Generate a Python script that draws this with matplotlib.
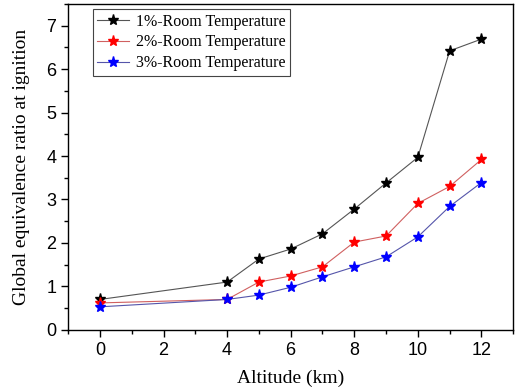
import matplotlib
matplotlib.use("Agg")
import matplotlib.pyplot as plt
from matplotlib.ticker import MultipleLocator

altitude = [0, 4, 5, 6, 7, 8, 9, 10, 11, 12]
phi_1pct = [0.70, 1.10, 1.63, 1.86, 2.21, 2.78, 3.38, 3.97, 6.42, 6.69]
phi_2pct = [0.62, 0.70, 1.10, 1.24, 1.45, 2.02, 2.16, 2.91, 3.30, 3.92]
phi_3pct = [0.53, 0.70, 0.80, 0.98, 1.22, 1.45, 1.68, 2.14, 2.84, 3.39]
labels = ["1%-Room Temperature", "2%-Room Temperature", "3%-Room Temperature"]

series = [
    (phi_1pct, "#555555", "black"),
    (phi_2pct, "#d06060", "red"),
    (phi_3pct, "#5555aa", "blue"),
]

fig = plt.figure(figsize=(5.2, 3.89), dpi=100)
ax = fig.add_axes([0.131, 0.152, 0.856, 0.838])

for (vals, lc, mc), lab in zip(series, labels):
    ax.plot(altitude, vals, color=lc, lw=0.8, marker="*", markersize=8,
            markerfacecolor=mc, markeredgecolor=mc, label=lab)

ax.set_xlim(-1, 13)
ax.set_ylim(0, 7.5)
ax.xaxis.set_major_locator(MultipleLocator(2))
ax.xaxis.set_minor_locator(MultipleLocator(1))
ax.yaxis.set_major_locator(MultipleLocator(1))
ax.yaxis.set_minor_locator(MultipleLocator(0.5))
ax.tick_params(which="both", direction="out", top=False, right=False)
ax.tick_params(which="major", length=5, width=1.0, labelsize=13)
ax.tick_params(which="minor", length=3, width=1.0)
for lbl in ax.get_xticklabels() + ax.get_yticklabels():
    lbl.set_family("Liberation Sans")
for sp in ax.spines.values():
    sp.set_linewidth(1.0)

serif = {"family": "Liberation Serif", "size": 14}
ax.set_xlabel("Altitude (km)", fontdict=serif, labelpad=8)
ax.set_ylabel("Global equivalence ratio at ignition", fontdict=serif, labelpad=12)

leg = ax.legend(loc="upper left", bbox_to_anchor=(0.055, 0.985), prop={"family": "Liberation Serif", "size": 11.5},
                fancybox=False, edgecolor="#444444", framealpha=1, borderpad=0.3,
                labelspacing=0.3, handlelength=2.0, handletextpad=0.4, borderaxespad=0)
leg.get_frame().set_linewidth(0.8)

fig.savefig("out.png", dpi=100)
